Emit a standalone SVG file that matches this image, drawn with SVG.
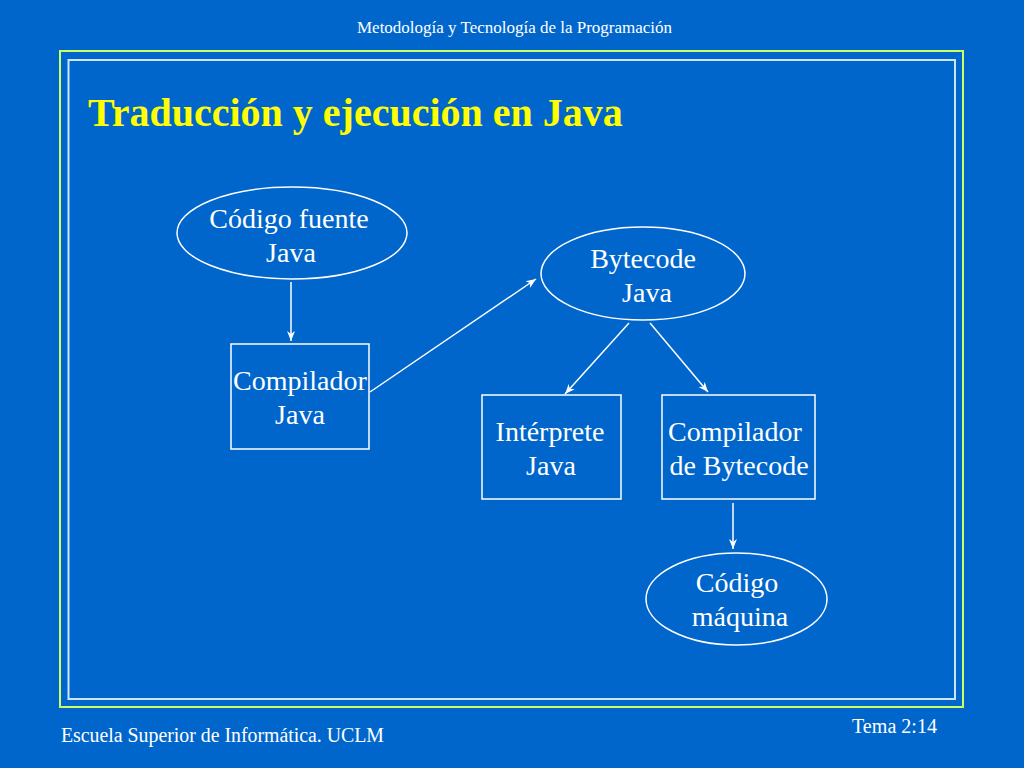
<svg xmlns="http://www.w3.org/2000/svg" width="1024" height="768" viewBox="0 0 1024 768">
<defs>
<marker id="arr" viewBox="0 0 10 10" refX="10" refY="5" markerWidth="10" markerHeight="10" markerUnits="userSpaceOnUse" orient="auto">
<path d="M0,1 L10,5 L0,9 L3,5 Z" fill="#ffffff"/>
</marker>
<style>
.node{fill:none;stroke:#ffffff;stroke-width:1.5}
.lbl{font-family:"Liberation Serif","Times New Roman",serif;font-size:28px;fill:#ffffff;text-anchor:middle}
.conn{stroke:#ffffff;stroke-width:1.5;fill:none;marker-end:url(#arr)}
.small{font-family:"Liberation Serif","Times New Roman",serif;fill:#ffffff}
</style>
</defs>
<rect x="0" y="0" width="1024" height="768" fill="#0066cc"/>
<rect x="60" y="51" width="903" height="656" fill="none" stroke="#ccff66" stroke-width="2"/>
<rect x="68.5" y="60" width="886.5" height="639" fill="none" stroke="#cce6ff" stroke-width="2"/>
<text class="small" x="514.5" y="33" font-size="17" text-anchor="middle" textLength="315" lengthAdjust="spacingAndGlyphs">Metodología y Tecnología de la Programación</text>
<text x="88" y="126" font-family="'Liberation Serif','Times New Roman',serif" font-size="40" font-weight="bold" fill="#ffff00">Traducción y ejecución en Java</text>
<text class="small" x="61" y="742" font-size="20" textLength="323" lengthAdjust="spacingAndGlyphs">Escuela Superior de Informática. UCLM</text>
<text class="small" x="852" y="733" font-size="20" textLength="85" lengthAdjust="spacingAndGlyphs">Tema 2:14</text>
<g id="connectors">
<line class="conn" x1="291" y1="282" x2="291" y2="341"/>
<line class="conn" x1="370" y1="392" x2="536" y2="279"/>
<line class="conn" x1="629" y1="323" x2="565" y2="394"/>
<line class="conn" x1="650" y1="323" x2="708" y2="392"/>
<line class="conn" x1="733" y1="503" x2="733" y2="549"/>
</g>
<g id="codigo-fuente">
<ellipse class="node" cx="292" cy="233" rx="115" ry="46"/>
<text class="lbl" x="289" y="228">Código fuente</text>
<text class="lbl" x="291" y="262">Java</text>
</g>
<g id="compilador-java">
<rect class="node" x="231" y="344" width="138" height="105"/>
<text class="lbl" x="300" y="390">Compilador</text>
<text class="lbl" x="300" y="424">Java</text>
</g>
<g id="bytecode">
<ellipse class="node" cx="643" cy="273.5" rx="102" ry="46.5"/>
<text class="lbl" x="643" y="268">Bytecode</text>
<text class="lbl" x="647" y="302">Java</text>
</g>
<g id="interprete">
<rect class="node" x="482" y="395" width="139" height="104"/>
<text class="lbl" x="550" y="441">Intérprete</text>
<text class="lbl" x="551" y="475">Java</text>
</g>
<g id="compilador-bytecode">
<rect class="node" x="662" y="395" width="153" height="104"/>
<text class="lbl" x="735" y="441">Compilador</text>
<text class="lbl" x="739" y="475">de Bytecode</text>
</g>
<g id="codigo-maquina">
<ellipse class="node" cx="736.5" cy="599" rx="90.5" ry="46"/>
<text class="lbl" x="737" y="592">Código</text>
<text class="lbl" x="740" y="626">máquina</text>
</g>
</svg>
